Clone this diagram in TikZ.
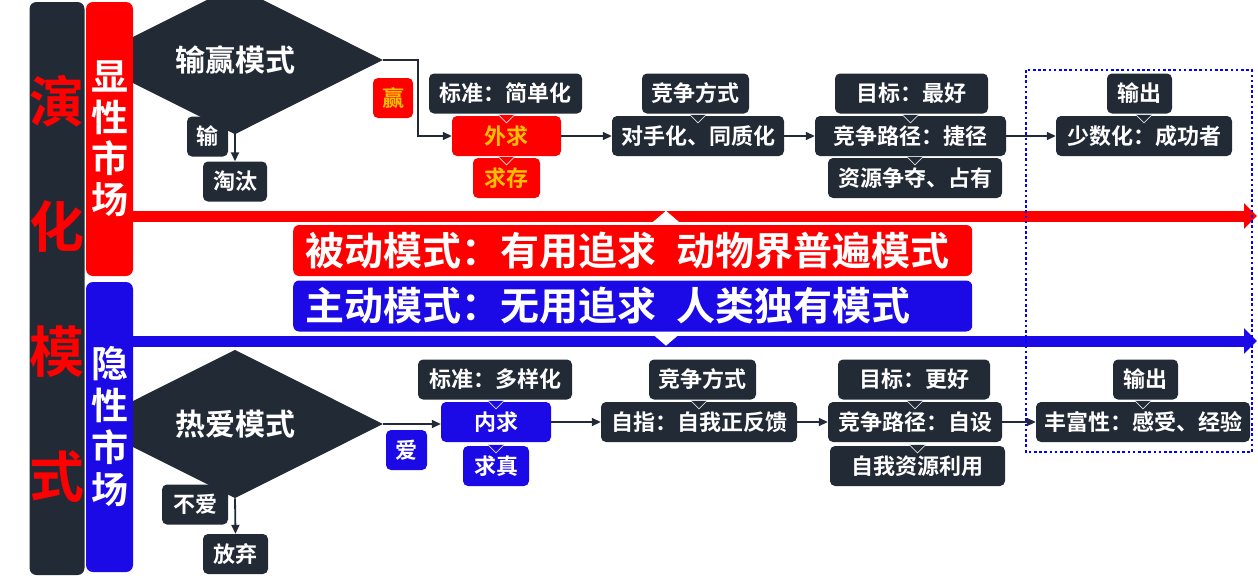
\documentclass[tikz,border=0pt]{standalone}
\usepackage{fontspec}
\newfontfamily\hei{Noto Sans CJK SC}[BoldFont={Noto Sans CJK SC Bold}]
\usetikzlibrary{arrows.meta, shapes.geometric, calc}
\definecolor{ink}{HTML}{222A36}
\definecolor{hot}{HTML}{FF0000}
\definecolor{cool}{HTML}{1B0AE6}
\definecolor{gold}{HTML}{FFC000}
\newcommand{\fsz}[2]{\fontsize{#1}{#2}\selectfont}

\begin{document}
\begin{tikzpicture}[
  x=1pt, y=-1pt,
  box/.style={rounded corners=5, fill=ink, text=white, font=\hei\bfseries\fsz{22}{26},
              minimum height=40, inner sep=0, anchor=center},
  redbox/.style={box, fill=hot, text=gold},
  bluebox/.style={box, fill=cool},
  choice/.style={diamond, fill=ink, text=white, font=\hei\bfseries\fsz{30}{34},
                 minimum width=296, minimum height=116, inner sep=0},
  bar/.style={rounded corners=7, inner sep=0, align=center},
  banner/.style={rounded corners=6, text=white, font=\hei\bfseries\fsz{39}{43},
                 text width=655, align=left, inner xsep=12, inner ysep=0,
                 minimum height=51, anchor=west},
  link/.style={draw=ink, line width=1.8, -{Triangle[length=9,width=8]}},
  band/.style={line width=11, -{Triangle[length=13,width=25]}},
]
\useasboundingbox (0,0) rectangle (1258,581);

% decision diamonds (half hidden by the bars)
\node[choice] (game) at (235,60) {输赢模式};
\node[choice] (love) at (235,424) {热爱模式};

% side bars
\node[bar, fill=ink, text=hot, font=\hei\bfseries\fsz{55}{125},
      minimum width=52, minimum height=573] (evo) at (57,288.5) {演\\化\\模\\式};
\node[bar, fill=hot, text=white, font=\hei\bfseries\fsz{37}{41},
      minimum width=47, minimum height=274] (redbar) at (109.5,139) {显\\性\\市\\场};
\node[bar, fill=cool, text=white, font=\hei\bfseries\fsz{37}{42},
      minimum width=47, minimum height=290] (bluebar) at (109.5,427) {隐\\性\\市\\场};

% boxes
\foreach \nm/\x/\y/\w/\s/\txt in {
  lose1/207.5/136.5/41/box/输,
  out1/235/181.5/64/box/淘汰,
  win1/393/98/40/redbox/赢,
  std1/505.5/93.5/153/box/标准：简单化,
  outer/506.5/136/109/redbox/外求,
  live/506.5/178/67/redbox/求存,
  way1/695.5/93.5/107/box/竞争方式,
  rival/698/136/172/box/对手化、同质化,
  aim1/911.5/93.5/153/box/目标：最好,
  path1/910.5/136/191/box/竞争路径：捷径,
  grab/915/178/174/box/资源争夺、占有,
  outp1/1139.5/93.5/65/box/输出,
  few/1144/136/176/box/少数化：成功者,
  lose2/195/504.5/66/box/不爱,
  out2/235.5/554/65/box/放弃,
  win2/406.5/450/41/bluebox/爱,
  std2/495/379.5/154/box/标准：多样化,
  inner/496/422/110/bluebox/内求,
  truth/496/466/66/bluebox/求真,
  way2/702.5/379.5/107/box/竞争方式,
  self/699/422/196/box/自指：自我正反馈,
  aim2/914/379.5/152/box/目标：更好,
  path2/915/422/174/box/竞争路径：自设,
  use/917.5/466/175/box/自我资源利用,
  outp2/1145.5/379.5/65/box/输出,
  rich/1143/422/214/box/丰富性：感受、经验%
}{
  \node[\s, minimum width=\w] (\nm) at (\x,\y) {\txt};
}

% callout notches
\foreach \b/\c in {outer/hot, live/hot, rival/ink, path1/ink, grab/ink, few/ink,
                   inner/cool, truth/cool, self/ink, path2/ink, use/ink, rich/ink}{
  \filldraw[fill=\c, draw=white!85!ink, line width=0.7]
    ($(\b.north)+(-8,-1)$) -- ($(\b.north)+(0,7)$) -- ($(\b.north)+(8,-1)$);
}

% connectors
\draw[link] (game.south) -- (out1.north);
\draw[link] (game.east) -- ++(35,0) |- (outer.west);
\draw[link] (outer) -- (rival);
\draw[link] (rival) -- (path1);
\draw[link] (path1) -- (few);
\draw[link] (love.south) -- (out2.north);
\draw[link] (love.east) -- (love.east -| inner.west);
\draw[link] (inner) -- (self);
\draw[link] (self) -- (path2);
\draw[link] (path2) -- (rich);

% banners
\node[banner, fill=hot] (passive) at (293,250.5) {被动模式：有用追求\hspace{20pt}动物界普遍模式};
\node[banner, fill=cool] (active) at (293,306) {主动模式：无用追求\hspace{20pt}人类独有模式};

% market arrows
\coordinate (redEnd) at (1257,216);
\coordinate (blueEnd) at (1257,341);
\draw[band, draw=hot, fill=hot] (redbar.east |- redEnd) -- (redEnd);
\draw[band, draw=cool, fill=cool] (bluebar.east |- blueEnd) -- (blueEnd);
\fill[white] ($(passive.north west)+(359,-2)$) -- ++(28,0) -- ++(-14,-12) -- cycle;
\fill[white] ($(active.south west)+(359,2)$) -- ++(28,0) -- ++(-14,12) -- cycle;

% output frame
\draw[blue!90!cool, line width=2.6, dash pattern=on 2.6 off 2.6] (1026,70) rectangle (1252,452);
\end{tikzpicture}
\end{document}
